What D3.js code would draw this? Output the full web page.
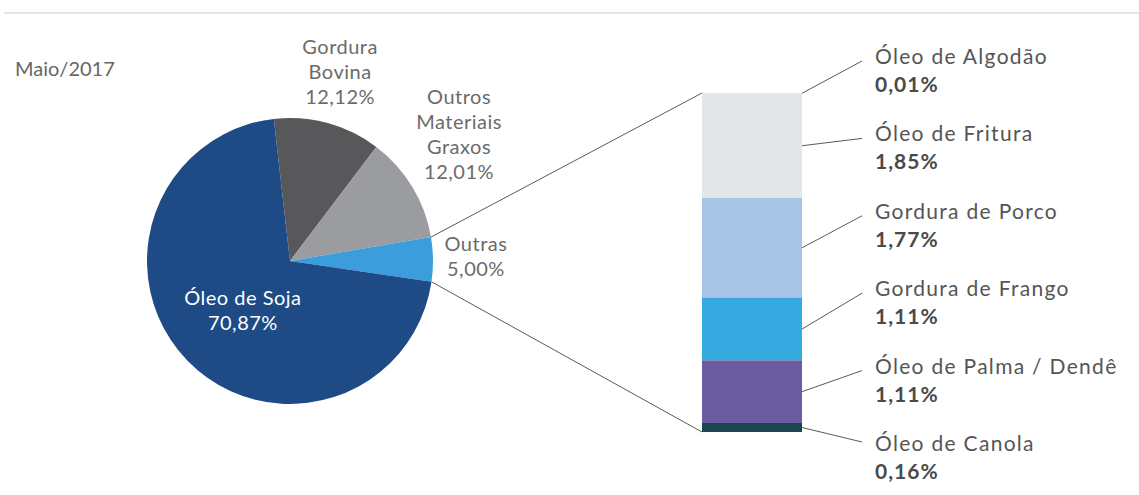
<!DOCTYPE html>
<html>
<head>
<meta charset="utf-8">
<script src="https://cdn.jsdelivr.net/npm/d3@7/dist/d3.min.js"></script>
<style>
  body { margin: 0; background: #ffffff; }
  text { font-family: Lato, "Open Sans", sans-serif; }
</style>
</head>
<body>
<svg id="chart" width="1139" height="495"></svg>
<script>
// Composition of raw materials used in biodiesel production
const period = "Maio/2017";

const pieCategories = ["Gordura Bovina", "Outros Materiais Graxos", "Outras", "Óleo de Soja"];
const pieLabelLines = [["Gordura", "Bovina"], ["Outros", "Materiais", "Graxos"], ["Outras"], ["Óleo de Soja"]];
const pieValues = [12.12, 12.01, 5.00, 70.87];
const pieColors = ["#58585b", "#9b9c9f", "#3b9ddb", "#1e4a86"];
const pieLabelColors = ["#6b6b6b", "#6b6b6b", "#6b6b6b", "#ffffff"];

// Breakdown of the "Outras" slice, listed top to bottom
const subCategories = ["Óleo de Algodão", "Óleo de Fritura", "Gordura de Porco", "Gordura de Frango", "Óleo de Palma / Dendê", "Óleo de Canola"];
const subValues = [0.01, 1.85, 1.77, 1.11, 1.11, 0.16];
const subColors = ["#d3d5d8", "#e4e6e9", "#a7c3e6", "#36a9e1", "#6b5ba0", "#1b4650"];

const locale = d3.formatLocale({ decimal: ",", thousands: ".", grouping: [3], currency: ["R$", ""] });
const pct = v => locale.format(".2f")(v) + "%";
const rad = deg => deg * Math.PI / 180;

const svg = d3.select("#chart");

// thin rule across the top
svg.append("line")
  .attr("x1", 4).attr("x2", 1139).attr("y1", 13).attr("y2", 13)
  .attr("stroke", "#e6e6e6").attr("stroke-width", 2);

svg.append("text")
  .attr("x", 15).attr("y", 76)
  .attr("font-size", 20).attr("fill", "#666")
  .text(period);

// ---- pie ----
const cx = 290, cy = 261, radius = 143;
const startAngle = rad(-6.5);

const pie = d3.pie().sort(null).value(d => d.value)
  .startAngle(startAngle).endAngle(startAngle + 2 * Math.PI);
const pieData = pie(pieCategories.map((c, i) => ({ name: c, value: pieValues[i], i })));

const arc = d3.arc().innerRadius(0).outerRadius(radius);
const gPie = svg.append("g").attr("transform", `translate(${cx},${cy})`);

gPie.selectAll("path").data(pieData).join("path")
  .attr("d", arc)
  .attr("fill", d => pieColors[d.data.i]);

// slice labels, placed along each slice's mid angle (with small nudges)
const labelRadius = [196, 211, 186, 68];
const labelNudge = [-0.5, -5.5, -0.8, -2.1];
const lineH = 25;
pieData.forEach(d => {
  const i = d.data.i;
  const a = (d.startAngle + d.endAngle) / 2 + rad(labelNudge[i]);
  const lines = pieLabelLines[i].concat([pct(d.data.value)]);
  const x = labelRadius[i] * Math.sin(a);
  const y = -labelRadius[i] * Math.cos(a);
  const t = gPie.append("text")
    .attr("text-anchor", "middle")
    .attr("font-size", 20)
    .attr("letter-spacing", 0.5)
    .attr("fill", pieLabelColors[i]);
  const y0 = y - (lines.length - 1) * lineH / 2 + 7;
  lines.forEach((l, k) => {
    t.append("tspan").attr("x", x).attr("y", y0 + k * lineH).text(l);
  });
});

// ---- stacked breakdown bar ----
const barX = 702, barW = 100, barTop = 93, barBottom = 432;
const total = d3.sum(subValues);
const y = d3.scaleLinear().domain([0, total]).range([barTop, barBottom]);
const cum = d3.cumsum(subValues);
const segs = subValues.map((v, i) => ({ name: subCategories[i], value: v, i, y0: cum[i] - v, y1: cum[i] }));

svg.append("g").selectAll("rect").data(segs).join("rect")
  .attr("x", barX).attr("width", barW)
  .attr("y", d => y(d.y0))
  .attr("height", d => y(d.y1) - y(d.y0))
  .attr("fill", d => subColors[d.i]);

// connectors from the "Outras" slice to the bar
const outras = pieData[2];
const edge = a => [cx + radius * Math.sin(a), cy - radius * Math.cos(a)];
const [ax, ay] = edge(outras.startAngle);
const [bx, by] = edge(outras.endAngle);
svg.append("line").attr("x1", ax).attr("y1", ay).attr("x2", barX).attr("y2", y(0))
  .attr("stroke", "#5a5a5a").attr("stroke-width", 1);
svg.append("line").attr("x1", bx).attr("y1", by).attr("x2", barX).attr("y2", y(total))
  .attr("stroke", "#5a5a5a").attr("stroke-width", 1);

// breakdown labels and their leader lines
const labelX = 875, firstName = 64, step = 77.4;
segs.forEach(d => {
  const ny = firstName + d.i * step;
  const ly = d.i === segs.length - 1 ? ny - 9 : ny - 3;
  svg.append("line")
    .attr("x1", barX + barW).attr("y1", y((d.y0 + d.y1) / 2))
    .attr("x2", labelX - 13).attr("y2", ly)
    .attr("stroke", "#5a5a5a").attr("stroke-width", 1);
  svg.append("text")
    .attr("x", labelX).attr("y", ny)
    .attr("font-size", 21).attr("letter-spacing", 1.3).attr("fill", "#555")
    .text(d.name);
  svg.append("text")
    .attr("x", labelX).attr("y", ny + 28)
    .attr("font-size", 21).attr("letter-spacing", 1).attr("font-weight", "bold").attr("fill", "#4a4a4a")
    .text(pct(d.value));
});
</script>
</body>
</html>
